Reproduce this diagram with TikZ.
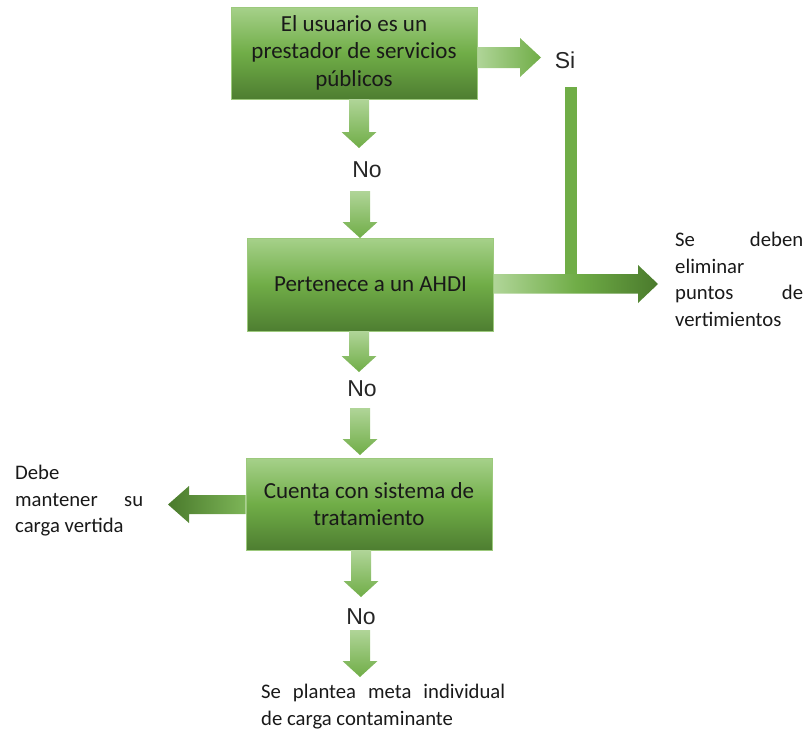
\documentclass[tikz,border=0pt]{standalone}
\usepackage{fontspec}
\setmainfont{Carlito}
\newfontfamily\arialf{Liberation Sans}
\usetikzlibrary{calc}
\definecolor{gtop}{HTML}{A6D18A}
\definecolor{gmid}{HTML}{70AD47}
\definecolor{gbot}{HTML}{4E7E31}
\definecolor{gedge}{HTML}{9CC97C}
\definecolor{alight}{HTML}{B0D598}
\definecolor{adark}{HTML}{4A7A2C}
\tikzset{
  decbox/.style={rectangle, draw=gedge, line width=0.8pt, top color=gtop, bottom color=gbot, middle color=gmid,
    minimum width=246pt, minimum height=92pt, align=center, inner sep=2pt,
    font=\fontsize{23}{27.5}\selectfont, text=black!90},
  ans/.style={font=\arialf\fontsize{23}{27}\selectfont, text=black!85, inner sep=0pt},
  note/.style={font=\fontsize{20.7}{26.5}\selectfont, text=black!90, inner sep=0pt, align=left},
}
% vertical block arrow from #1 (shaft top) to #2 (tip)
\newcommand{\blockdown}[2]{%
  \shade[top color=alight, bottom color=gmid] let \p1=(#1), \p2=(#2) in
    (\x1-10pt,\y1) -- (\x1+10pt,\y1) -- (\x1+10pt,\y2+16pt) -- (\x1+17.5pt,\y2+16pt)
    -- (\x1,\y2) -- (\x1-17.5pt,\y2+16pt) -- (\x1-10pt,\y2+16pt) -- cycle;}
\begin{document}
\begin{tikzpicture}[x=1pt,y=-1pt]
\useasboundingbox (0,0) rectangle (806,734);
% boxes
\node[decbox] (b1) at (354,53) {\raisebox{-3pt}{\begin{tabular}{@{}c@{}}El usuario es un\\prestador de servicios\\públicos\end{tabular}}};
\node[decbox, minimum height=93pt] (b2) at (370.5,284.5) {Pertenece a un AHDI};
\node[decbox] (b3) at (369,504) {Cuenta con sistema de\\tratamiento};
% answers
\node[ans] (no1) at (367,170) {No};
\node[ans] (no2) at (362,389) {No};
\node[ans] (no3) at (361,617) {No};
\node[ans] (si) at (565,60) {Si};
% notes
\node[note, anchor=north west] (t1) at (675,232)
  {\makebox[128pt][s]{Se deben}\\eliminar\\\makebox[128pt][s]{puntos de}\\vertimientos};
\node[note, anchor=north west] (t2) at (15,465)
  {Debe\\\makebox[128pt][s]{mantener su}\\carga vertida};
\node[note, anchor=north west] (t3) at (261,684)
  {\makebox[244pt][s]{Se plantea meta individual}\\de carga contaminante};
% arrow anchors
\coordinate (a1s) at (359,99);  \coordinate (a1t) at (359,148);
\coordinate (a2s) at (360,191); \coordinate (a2t) at (360,238);
\coordinate (a3s) at (359,331); \coordinate (a3t) at (359,372);
\coordinate (a4s) at (360,408); \coordinate (a4t) at (360,455);
\coordinate (a5s) at (361,550); \coordinate (a5t) at (361,597);
\coordinate (a6s) at (360,630); \coordinate (a6t) at (360,677);
\blockdown{a1s}{a1t}
\blockdown{a2s}{a2t}
\blockdown{a3s}{a3t}
\blockdown{a4s}{a4t}
\blockdown{a5s}{a5t}
\blockdown{a6s}{a6t}
% arrow to Si
\coordinate (siTip) at (541,57.5);
\shade[left color=alight, right color=gmid]
  (b1.east |- 0,47) -- (520,47) -- (520,38) -- (siTip) -- (520,77) -- (520,68) -- (b1.east |- 0,68) -- cycle;
% vertical bar from Si down
\coordinate (vtop) at (571,87);
\coordinate (vbot) at (571,284);
\fill[gmid] ($(vtop)+(-6,0)$) rectangle ($(vbot)+(6,0)$);
% arrow to eliminate
\coordinate (elTip) at (658,284);
\shade[left color=alight, right color=adark, middle color=gmid]
  (b2.east |- 0,274) -- (638,274) -- (638,265) -- (elTip) -- (638,303) -- (638,293.5) -- (b2.east |- 0,293.5) -- cycle;
% arrow left from b3
\coordinate (deTip) at (168,504.5);
\shade[left color=adark, right color=gmid!80!alight]
  (b3.west |- 0,495) -- (189,495) -- (189,486) -- (deTip) -- (189,523) -- (189,514) -- (b3.west |- 0,514) -- cycle;
\end{tikzpicture}
\end{document}
